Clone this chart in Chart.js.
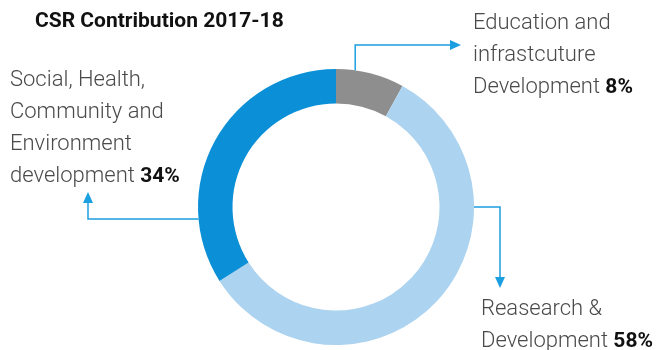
<!DOCTYPE html>
<html>
<head>
<meta charset="utf-8">
<script src="https://cdn.jsdelivr.net/npm/chart.js@4"></script>
<style>
  html, body { margin: 0; padding: 0; background: #fff; }
  #wrap { position: relative; width: 657px; height: 350px; }
</style>
</head>
<body>
<div id="wrap"><canvas id="csr"></canvas></div>
<script>
const title = "CSR Contribution 2017-18";
const categories = ["Education and infrastcuture Development", "Reasearch & Development", "Social, Health, Community and Environment development"];
const shares = [8, 58, 34];
const colors = ["#8e8e8e", "#acd3ef", "#0b8fd7"];

// label text lines, the last line gets the bold percentage
const labelLines = [
  ["Education and", "infrastcuture", "Development"],
  ["Reasearch &", "Development"],
  ["Social, Health,", "Community and", "Environment", "development"]
];

const arrowColor = "#1c9fe0";
const labelFont = "300 22px Roboto";
const boldFont = "bold 21px Roboto";

function drawArrowHead(ctx, x, y, dir) {
  // dir: "right" | "down" | "up"
  ctx.beginPath();
  if (dir === "right") { ctx.moveTo(x, y); ctx.lineTo(x - 11, y - 5); ctx.lineTo(x - 11, y + 5); }
  if (dir === "down") { ctx.moveTo(x, y); ctx.lineTo(x - 5, y - 11); ctx.lineTo(x + 5, y - 11); }
  if (dir === "up") { ctx.moveTo(x, y); ctx.lineTo(x - 5, y + 11); ctx.lineTo(x + 5, y + 11); }
  ctx.closePath();
  ctx.fill();
}

function drawLabel(ctx, lines, pct, x, y, lh) {
  ctx.textAlign = "left";
  ctx.textBaseline = "alphabetic";
  lines.forEach((t, i) => {
    ctx.font = labelFont;
    ctx.fillStyle = "#4a4a4a";
    ctx.fillText(t, x, y + i * lh);
    if (i === lines.length - 1) {
      const w = ctx.measureText(t + " ").width;
      ctx.font = boldFont;
      ctx.fillStyle = "#111";
      ctx.fillText(pct + "%", x + w, y + i * lh);
    }
  });
}

const calloutPlugin = {
  id: "callouts",
  afterDraw(chart) {
    const ctx = chart.ctx;
    const arcs = chart.getDatasetMeta(0).data;
    const cx = arcs[0].x, cy = arcs[0].y, r = arcs[0].outerRadius;
    const at = deg => {
      const a = (deg - 90) * Math.PI / 180;
      return { x: cx + r * Math.cos(a), y: cy + r * Math.sin(a) };
    };

    ctx.save();
    ctx.font = "bold 21px Roboto";
    ctx.fillStyle = "#111";
    ctx.textAlign = "left";
    ctx.textBaseline = "alphabetic";
    ctx.fillText(title, 35, 27);

    ctx.strokeStyle = arrowColor;
    ctx.fillStyle = arrowColor;
    ctx.lineWidth = 1.5;

    // education: up from the grey arc, then right
    let p = at(8);
    ctx.beginPath();
    ctx.moveTo(p.x, p.y);
    ctx.lineTo(p.x, 45);
    ctx.lineTo(452, 45);
    ctx.stroke();
    drawArrowHead(ctx, 461, 45, "right");

    // research: right from the rim, then down
    p = at(90);
    ctx.beginPath();
    ctx.moveTo(p.x, p.y);
    ctx.lineTo(500, p.y);
    ctx.lineTo(500, 278);
    ctx.stroke();
    drawArrowHead(ctx, 500, 288, "down");

    // social: left from the rim, then up
    p = at(265);
    ctx.beginPath();
    ctx.moveTo(p.x, p.y);
    ctx.lineTo(88, p.y);
    ctx.lineTo(88, 203);
    ctx.stroke();
    drawArrowHead(ctx, 88, 192, "up");

    drawLabel(ctx, labelLines[0], shares[0], 473, 29, 32);
    drawLabel(ctx, labelLines[1], shares[1], 481, 315, 32);
    drawLabel(ctx, labelLines[2], shares[2], 10, 86, 32);
    ctx.restore();
  }
};

new Chart(document.getElementById("csr"), {
  type: "doughnut",
  data: {
    labels: categories,
    datasets: [{
      data: shares,
      backgroundColor: colors,
      borderWidth: 0
    }]
  },
  options: {
    responsive: true,
    maintainAspectRatio: false,
    animation: false,
    cutout: "75%",
    layout: { padding: { top: 69, bottom: 5, left: 198, right: 183 } },
    plugins: {
      legend: { display: false },
      tooltip: { enabled: false }
    }
  },
  plugins: [calloutPlugin]
});
</script>
</body>
</html>
